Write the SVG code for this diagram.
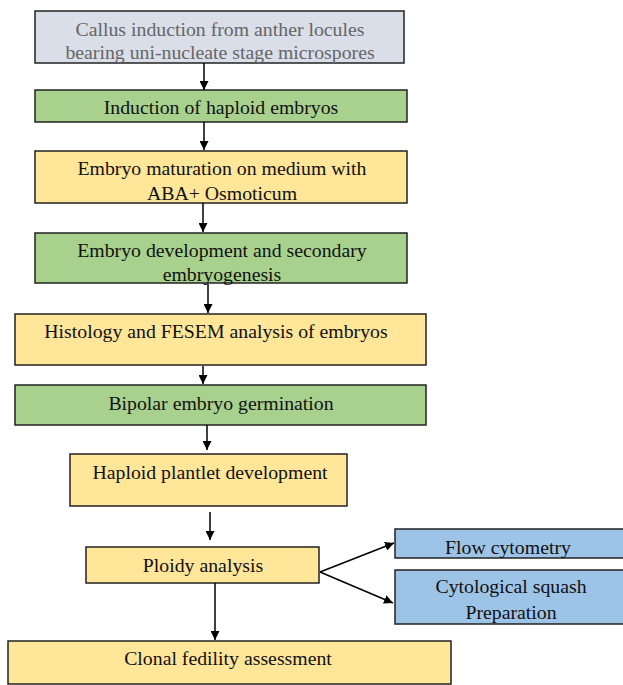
<svg xmlns="http://www.w3.org/2000/svg" width="623" height="685" viewBox="0 0 623 685">
<defs>
<marker id="ah" viewBox="0 0 10 10" refX="10" refY="5" markerWidth="9" markerHeight="9" markerUnits="userSpaceOnUse" orient="auto">
<path d="M0,0 L10,5 L0,10 z" fill="#000"/>
</marker>
<style>
rect{stroke:#222;stroke-width:1.5}
.g{fill:#d9dee8}
.gr{fill:#a9d18e}
.y{fill:#ffe699}
.b{fill:#9dc3e6}
text{font-family:"Liberation Serif","Times New Roman",serif;font-size:19.8px;fill:#111;text-anchor:middle}
.gt{fill:#666}
.c line{stroke:#000;stroke-width:1.5;marker-end:url(#ah)}
</style>
</defs>
<rect x="0" y="0" width="623" height="685" fill="#fff" style="stroke:none"/>
<g id="n1"><rect class="g" x="35" y="11" width="369" height="52"/><text class="gt" x="220" y="36">Callus induction from anther locules</text><text class="gt" x="220" y="59">bearing uni-nucleate stage microspores</text></g>
<g id="n2"><rect class="gr" x="35" y="90" width="372" height="32"/><text x="221" y="114">Induction of haploid embryos</text></g>
<g id="n3"><rect class="y" x="35" y="151" width="372" height="52"/><text x="222" y="175">Embryo maturation on medium with</text><text x="222" y="200">ABA+ Osmoticum</text></g>
<g id="n4"><rect class="gr" x="35" y="233" width="372" height="50"/><text x="222" y="257">Embryo development and secondary</text><text x="222" y="281">embryogenesis</text></g>
<g id="n5"><rect class="y" x="15" y="314" width="411" height="51"/><text x="216" y="338">Histology and FESEM analysis of embryos</text></g>
<g id="n6"><rect class="gr" x="15" y="385" width="411" height="40"/><text x="221" y="410">Bipolar embryo germination</text></g>
<g id="n7"><rect class="y" x="70" y="454" width="277" height="52"/><text x="210" y="479">Haploid plantlet development</text></g>
<g id="n8"><rect class="y" x="86" y="547" width="233" height="36"/><text x="203" y="572">Ploidy analysis</text></g>
<g id="n9"><rect class="b" x="395" y="529" width="230" height="29"/><text x="508" y="554">Flow cytometry</text></g>
<g id="n10"><rect class="b" x="395" y="570" width="230" height="54"/><text x="511" y="593">Cytological squash</text><text x="511" y="619">Preparation</text></g>
<g id="n11"><rect class="y" x="8" y="641" width="443" height="43"/><text x="228" y="665">Clonal fedility assessment</text></g>
<g class="c" id="connectors">
<line x1="204" y1="63" x2="204" y2="90"/>
<line x1="204" y1="122" x2="204" y2="150"/>
<line x1="203" y1="203" x2="203" y2="232"/>
<line x1="208" y1="284" x2="208" y2="313"/>
<line x1="203" y1="366" x2="203" y2="384"/>
<line x1="207" y1="425" x2="207" y2="450"/>
<line x1="210" y1="512" x2="210" y2="540"/>
<line x1="215" y1="583" x2="215" y2="640"/>
<line x1="320" y1="572" x2="394" y2="543"/>
<line x1="320" y1="572" x2="393" y2="603"/>
</g>
</svg>
